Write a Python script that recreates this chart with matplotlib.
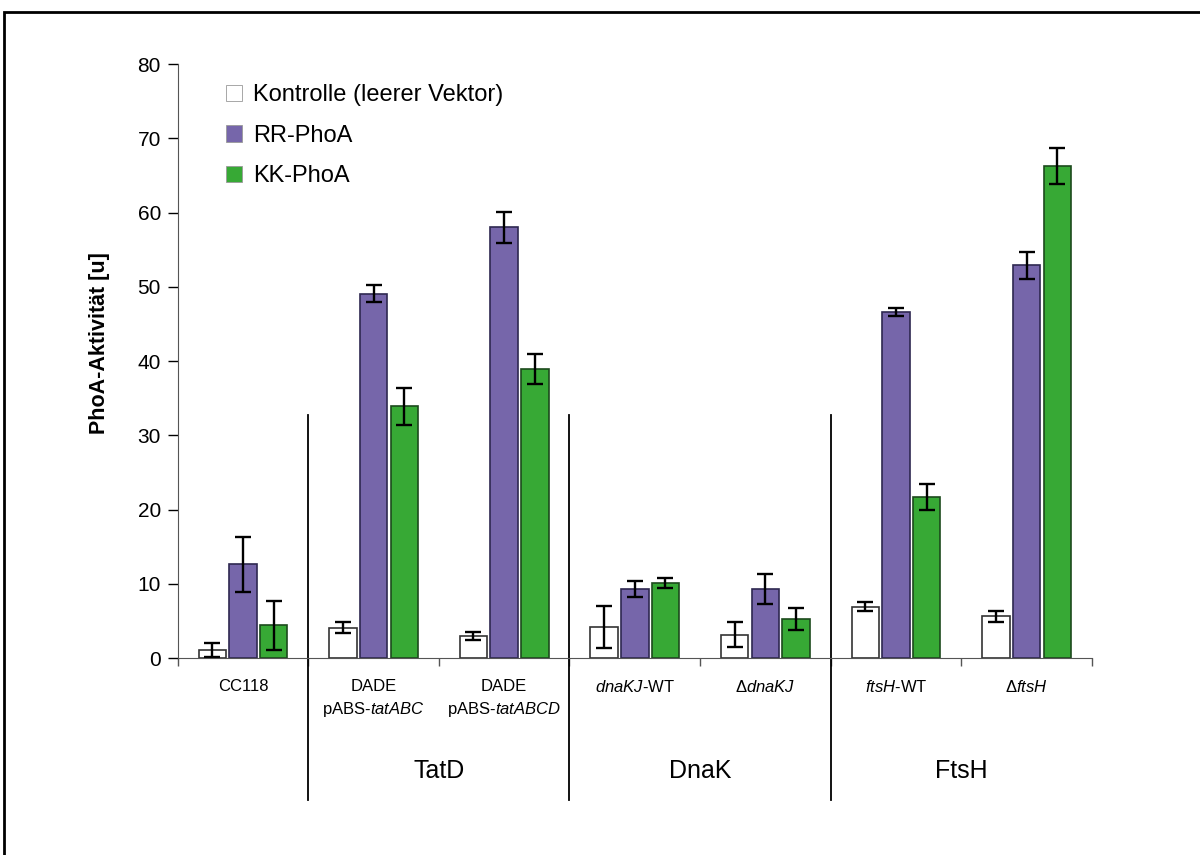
import matplotlib
matplotlib.use('Agg')
import matplotlib.pyplot as plt
from matplotlib.patches import Rectangle
import numpy as np

plt.rcParams['font.family'] = ['Liberation Sans', 'DejaVu Sans']
plt.rcParams['mathtext.fontset'] = 'custom'
plt.rcParams['mathtext.rm'] = 'Liberation Sans'
plt.rcParams['mathtext.it'] = 'Liberation Sans:italic'
plt.rcParams['mathtext.bf'] = 'Liberation Sans:bold'

# Daten
stämme = ['CC118',
          'DADE\npABS-$\\mathit{tatABC}$',
          'DADE\npABS-$\\mathit{tatABCD}$',
          '$\\mathit{dnaKJ}$-WT',
          '$\\Delta\\mathit{dnaKJ}$',
          '$\\mathit{ftsH}$-WT',
          '$\\Delta\\mathit{ftsH}$']
kontrolle = [1.1, 4.1, 3.0, 4.2, 3.15, 6.9, 5.6]
kontrolle_err = [0.9, 0.7, 0.55, 2.8, 1.7, 0.6, 0.7]
rr = [12.6, 49.1, 58.0, 9.3, 9.3, 46.6, 52.9]
rr_err = [3.75, 1.1, 2.1, 1.1, 2.0, 0.5, 1.8]
kk = [4.4, 33.9, 38.9, 10.1, 5.3, 21.7, 66.3]
kk_err = [3.3, 2.45, 2.05, 0.65, 1.5, 1.7, 2.4]
gruppen = ['TatD', 'DnaK', 'FtsH']

fig = plt.figure(figsize=(12, 8.55), dpi=100)
ax = fig.add_axes([0.148, 0.2304, 0.762, 0.6946])

x = np.arange(len(stämme))
w = 0.21
d = 0.235
ekw = dict(elinewidth=1.7, capthick=1.7, capsize=5.5, ecolor='black')
ax.bar(x - d, kontrolle, w, yerr=kontrolle_err, color='white', edgecolor='#333333',
       linewidth=1.2, error_kw=ekw, label='Kontrolle (leerer Vektor)')
ax.bar(x, rr, w, yerr=rr_err, color='#7666aa', edgecolor='#2e2850',
       linewidth=1.2, error_kw=ekw, label='RR-PhoA')
ax.bar(x + d, kk, w, yerr=kk_err, color='#37a935', edgecolor='#1c4a1c',
       linewidth=1.2, error_kw=ekw, label='KK-PhoA')

ax.set_xlim(-0.5, 6.5)
ax.set_ylim(0, 80)
ax.set_yticks(range(0, 81, 10))
ax.tick_params(axis='y', direction='out', length=7, width=1, labelsize=15, pad=5)
ax.set_xticks(x)
ax.set_xticklabels(stämme, fontsize=12, linespacing=1.45)
ax.tick_params(axis='x', length=0, pad=15)
ax.set_xticks(np.arange(-0.5, 7, 1), minor=True)
ax.tick_params(axis='x', which='minor', direction='out', length=6, width=1, color='#555555')
for s in ['top', 'right']:
    ax.spines[s].set_visible(False)
ax.spines['left'].set_color('#555555')
ax.spines['bottom'].set_color('#555555')
ax.set_ylabel('PhoA-Aktivität [u]', fontsize=15.5, fontweight='bold')
ax.yaxis.set_label_coords(-0.074, 0.53)

# Trennlinien und Gruppennamen
tr = ax.get_xaxis_transform()
for xs in [0.5, 2.5, 4.5]:
    ax.plot([xs, xs], [0.409, -0.239], color='black', lw=1.3, transform=tr, clip_on=False)
for name, xc in zip(gruppen, [1.5, 3.5, 5.5]):
    ax.text(xc, -0.19, name, transform=tr, ha='center', va='center', fontsize=18)

leg = ax.legend(loc='upper left', bbox_to_anchor=(0.0525, 0.966), frameon=False,
                fontsize=17, handlelength=0.7, handleheight=0.7, handletextpad=0.45,
                labelspacing=0.78, borderpad=0, borderaxespad=0)
for h in leg.legend_handles:
    h.set_linewidth(0.6)
    h.set_edgecolor('#999999')

fig.patches.append(Rectangle((0.0033, -0.1), 2, 1.0860, transform=fig.transFigure,
                             fill=False, edgecolor='black', lw=2))

fig.savefig('out.png', dpi=100)
